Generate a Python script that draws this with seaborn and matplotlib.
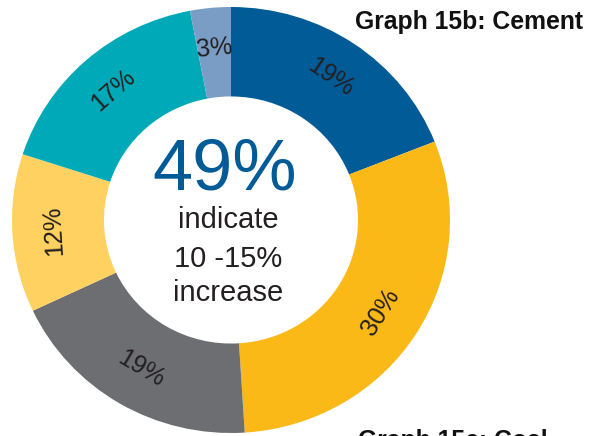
import numpy as np
import matplotlib
matplotlib.use("Agg")
import matplotlib.pyplot as plt
import seaborn as sns

# Share of respondents per expected price change band (cement)
shares = [19, 30, 19, 12, 17, 3]
slice_colors = ["#005b96", "#fbb918", "#6d6e72", "#fed160", "#00a9b8", "#7a9dc6"]
headline = "49%"
headline_lines = ["indicate", "10 -15%", "increase"]
title = "Graph 15b: Cement"
next_title = "Graph 15c: Coal"

sns.set_theme(style="white")
plt.rcParams["font.family"] = ["Liberation Sans", "DejaVu Sans"]

W, H = 609, 436
fig = plt.figure(figsize=(W / 100, H / 100), dpi=100)
fig.patch.set_facecolor("white")

# donut occupies pixel box x 12..450, y 7..433
ax = fig.add_axes([12 / W, (H - 433) / H, 438 / W, 426 / H])
palette = sns.color_palette(slice_colors)
wedges, _ = ax.pie(
    shares,
    colors=palette,
    startangle=90,
    counterclock=False,
    radius=1.0,
    wedgeprops=dict(width=0.42, linewidth=0),
)
ax.set_aspect("auto")
ax.set_xlim(-1, 1)
ax.set_ylim(-1, 1)
ax.axis("off")

# percentage labels set along the ring, following the tangent
total = float(sum(shares))
cum = 0.0
for val in shares:
    mid = (cum + val / 2) / total * 360.0  # clockwise from 12 o'clock
    cum += val
    th = np.deg2rad(mid)
    r = 0.81
    x, y = r * np.sin(th), r * np.cos(th)
    rot = -mid
    while rot <= -85:
        rot += 180
    while rot > 95:
        rot -= 180
    ax.text(x, y, f"{val}%", rotation=rot, rotation_mode="anchor",
            ha="center", va="center", fontsize=18, color="#231f20")

# centre statement
ax.text(-0.027, 0.141, headline, ha="center", va="baseline",
        fontsize=52, color="#005b96")
for txt, yb in zip(headline_lines, [-0.038, -0.221, -0.380]):
    ax.text(-0.014, yb, txt, ha="center", va="baseline",
            fontsize=21, color="#231f20")

fig.text(355 / W, 1 - 29 / H, title, ha="left", va="baseline",
         fontsize=17.8, fontweight="bold", color="#111111")
fig.text(358 / W, 1 - 429 / H, next_title, ha="left", va="top",
         fontsize=17.8, fontweight="bold", color="#111111")

fig.savefig("out.png", dpi=100, facecolor="white")
